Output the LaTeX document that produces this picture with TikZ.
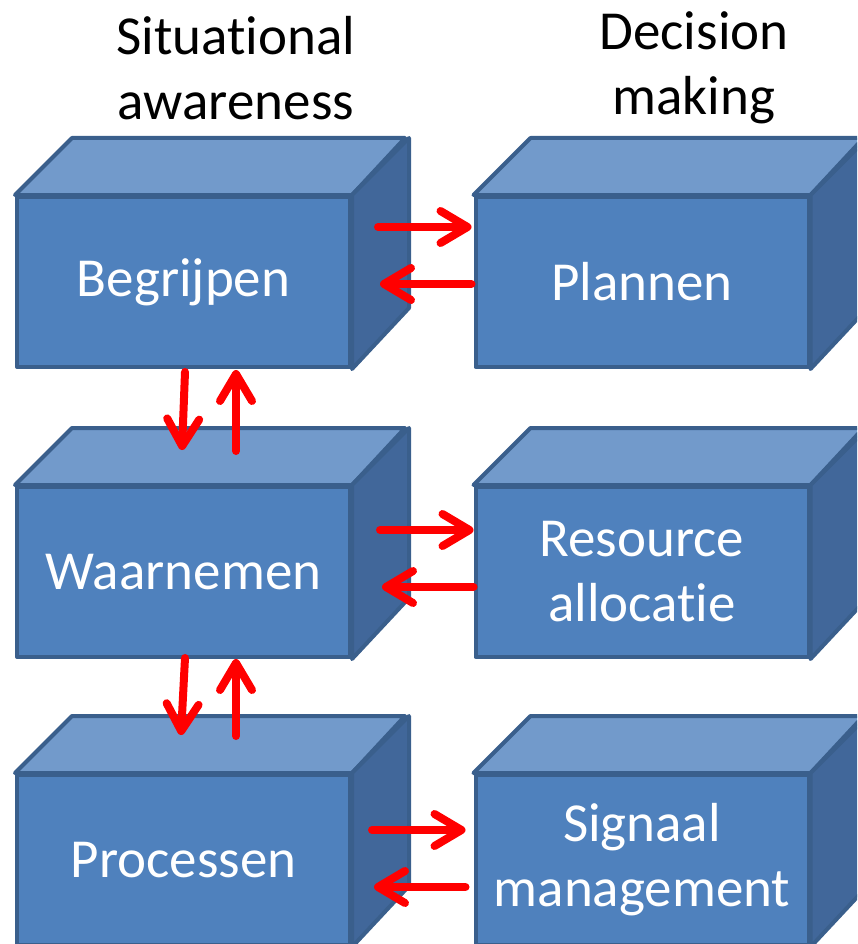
\documentclass[tikz,border=0pt]{standalone}
\usepackage{fontspec}
\setmainfont{Carlito}[RawFeature={-liga;-clig;-dlig;-calt}]
\usetikzlibrary{arrows.meta,calc}

\definecolor{boxfront}{HTML}{4F81BD}
\definecolor{boxtop}{HTML}{729ACB}
\definecolor{boxside}{HTML}{41679A}
\definecolor{boxline}{HTML}{3A5F8C}
\definecolor{arrowred}{HTML}{FF0000}

\tikzset{
	face/.style={draw=boxline, line width=4pt, line join=round, fill=boxfront,
		minimum width=333pt, minimum height=170pt, inner sep=0pt,
		text=white, align=center, font=\fontsize{55}{65}\selectfont},
	rim/.style={draw=boxline, line width=4pt, line join=round},
	head/.style={align=center, font=\fontsize{55}{65}\selectfont},
	link/.style={arrowred, line width=8pt, line cap=round,
		-{Straight Barb[length=27pt,width=32pt,round]}}
}

\begin{document}
\begin{tikzpicture}[x=1pt,y=-1pt]
	
	\clip (0,0) rectangle (857,944);
	\useasboundingbox (0,0) rectangle (857,944);
	
	\node[head] (sa) at (236,68) {Situational\\awareness};
	\node[head] (dm) at (694,68) {Decision\\making};
	
	\node[face] (beg) at (183.5,282) {Begrijpen};
	\node[face] (pla) at (642,282) {Plannen};
	\node[face] (wrn) at (183.5,572) {Waarnemen};
	\node[face] (res) at (642,572) {Resource\\allocatie};
	\node[face] (pro) at (183.5,860) {Processen};
	\node[face] (sig) at (642,860) {Signaal\\management};
	
	% top and side of each block
	\foreach \b in {beg,pla,wrn,res,pro,sig}{
		\draw[rim, fill=boxtop] (\b.north west) -- ++(57,-57) -- ++(333,0) -- (\b.north east) -- cycle;
		\draw[rim, fill=boxside] (\b.north east) -- ++(57,-57) -- ++(0,170) -- (\b.south east) -- cycle;
	}
	
	% horizontal links
	\draw[link] ($(beg.east)+(26,-55)$) -- ($(pla.west)+(-2,-55)$);
	\draw[link] ($(pla.west)+(-2,2)$) -- ($(beg.east)+(28,2)$);
	\draw[link] ($(wrn.east)+(28,-42)$) -- ($(res.west)+(0,-42)$);
	\draw[link] ($(res.west)+(0,15)$) -- ($(wrn.east)+(30,15)$);
	\draw[link] ($(pro.east)+(20,-30)$) -- ($(sig.west)+(-8,-30)$);
	\draw[link] ($(sig.west)+(-8,27)$) -- ($(pro.east)+(22,27)$);
	
	% vertical links
	\draw[link] ($(beg.south)+(1.5,3)$) -- ($(wrn.north)+(-1.5,-35)$);
	\draw[link] ($(wrn.north)+(52.5,-34)$) -- ($(beg.south)+(52.5,1)$);
	\draw[link] ($(wrn.south)+(1.5,-1)$) -- ($(pro.north)+(-2.5,-38)$);
	\draw[link] ($(pro.north)+(52.5,-37)$) -- ($(wrn.south)+(52.5,0)$);
	
\end{tikzpicture}
\end{document}
